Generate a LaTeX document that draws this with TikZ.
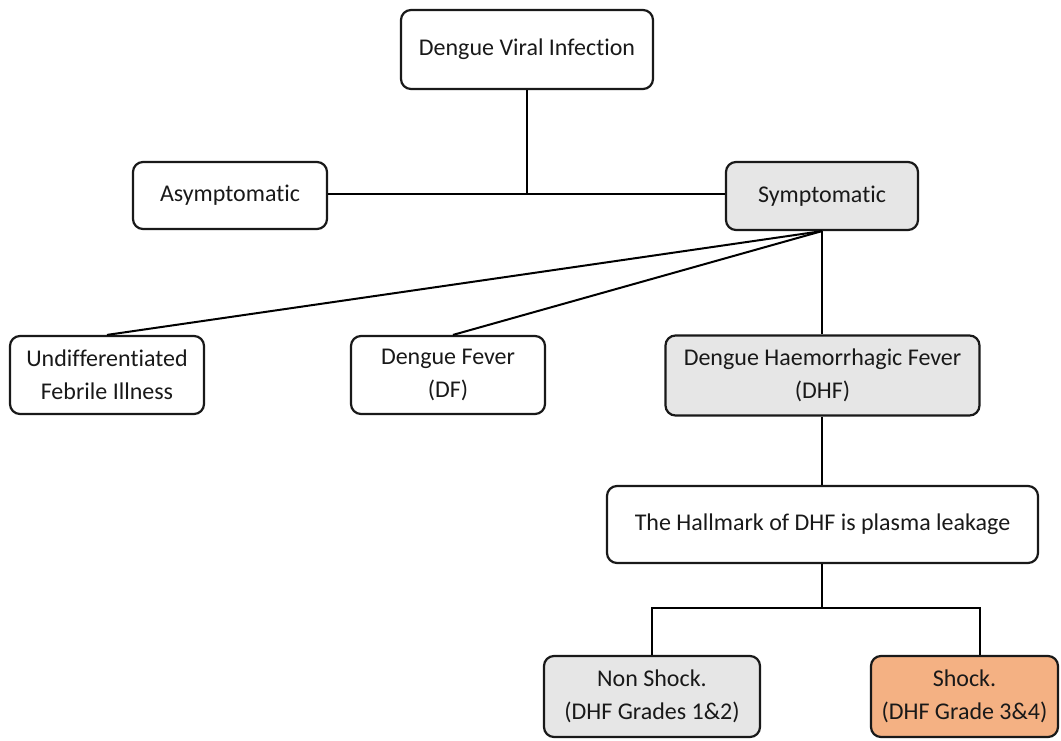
\documentclass[tikz,border=0pt]{standalone}
\usepackage{fontspec}
\setmainfont{Carlito}[Ligatures=NoCommon]
\usetikzlibrary{calc}
\definecolor{boxgray}{HTML}{E6E6E6}
\definecolor{boxorange}{HTML}{F4B183}
\begin{document}
\begin{tikzpicture}[x=1pt,y=-1pt,
  box/.style={draw=black!90, line width=2.2pt, rounded corners=10pt, align=center,
    inner sep=1pt, font=\fontsize{24}{33}\selectfont, text=black!90},
  link/.style={draw=black, line width=2pt}]
\useasboundingbox (0,0) rectangle (1061,740);

\node[box, minimum width=252pt, minimum height=79pt] (top) at (527,49.5) {Dengue Viral Infection};
\node[box, minimum width=194pt, minimum height=67pt] (asym) at (230,195.5) {Asymptomatic};
\node[box, fill=boxgray, minimum width=192pt, minimum height=68pt] (symp) at (822,196) {Symptomatic};
\node[box, minimum width=194pt, minimum height=78pt] (undiff) at (107,375) {Undifferentiated\\Febrile Illness};
\node[box, minimum width=194pt, minimum height=78pt] (df) at (448,375) {Dengue Fever\\(DF)};
\node[box, fill=boxgray, minimum width=314pt, minimum height=80pt] (dhf) at (822.5,375.5) {Dengue Haemorrhagic Fever\\(DHF)};
\node[box, minimum width=431pt, minimum height=77pt] (hall) at (822.5,524.5) {The Hallmark of DHF is plasma leakage};
\node[box, fill=boxgray, minimum width=216pt, minimum height=81pt] (nonshock) at (652,696.5) {Non Shock.\\(DHF Grades 1\&2)};
\node[box, fill=boxorange, minimum width=187pt, minimum height=81pt] (shock) at (964.5,696.5) {Shock.\\(DHF Grade 3\&4)};

% first split: asymptomatic / symptomatic
\coordinate (j1) at (527,194);
\draw[link] (top.south) -- (j1);
\draw[link] (asym.east |- j1) -- (symp.west |- j1);

% symptomatic forms
\draw[link] (symp.south) -- (undiff.north);
\draw[link] (symp.south) -- ($(df.north)+(5,0)$);
\draw[link] (symp.south) -- (symp.south |- dhf.north);

% DHF and its grades
\draw[link] (dhf.south -| symp.south) -- (hall.north -| symp.south);
\coordinate (j2) at (822,608);
\draw[link] (hall.south -| j2) -- (j2);
\draw[link] (nonshock.north) |- (j2) -| ($(shock.north)+(15.5,0)$);
\end{tikzpicture}
\end{document}
